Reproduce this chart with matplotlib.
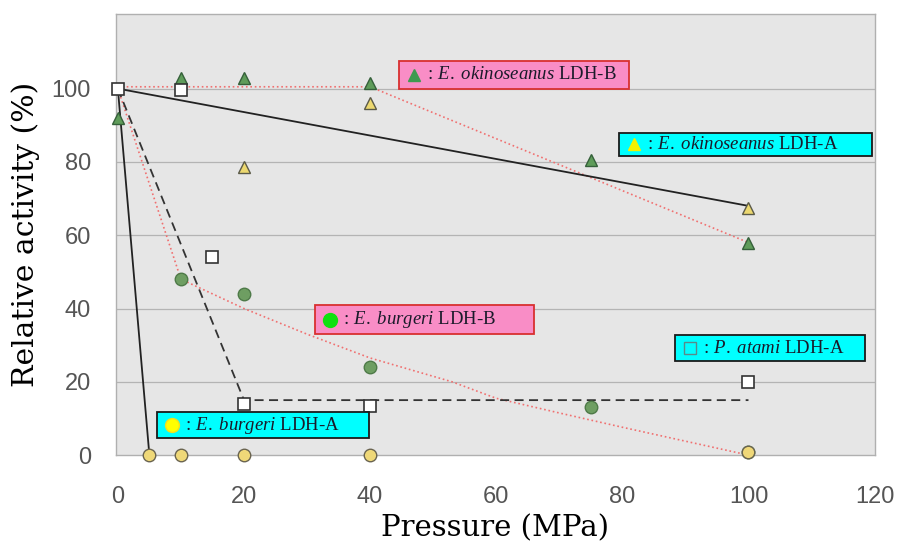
import matplotlib
matplotlib.use("Agg")
import matplotlib.pyplot as plt
from matplotlib.patches import Rectangle

# --- Style ---
plt.rcParams['mathtext.fontset'] = 'custom'
plt.rcParams['mathtext.rm'] = 'Liberation Serif'
plt.rcParams['mathtext.it'] = 'Liberation Serif:italic'

# --- Data ---
# E. okinoseanus LDH-B (green triangles)
okB_x = [0, 10, 20, 40, 75, 100]
okB_y = [92, 103, 103, 101.5, 80.5, 58]
okB_fit_x = [0, 40, 100]
okB_fit_y = [100.5, 100.5, 58]

# E. okinoseanus LDH-A (yellow triangles)
okA_x = [20, 40, 100]
okA_y = [78.5, 96, 67.5]
okA_fit_x = [0, 100]
okA_fit_y = [100, 68]

# P. atami LDH-A (open squares)
pa_x = [0, 10, 15, 20, 40, 100]
pa_y = [100, 99.5, 54, 14, 13.5, 20]
pa_fit_x = [0, 20, 100]
pa_fit_y = [100, 15, 15]

# E. burgeri LDH-B (green circles)
buB_x = [10, 20, 40, 75, 100]
buB_y = [48, 44, 24, 13, 0.8]
buB_fit_x = [0, 10, 20, 30, 40, 53, 60, 70, 80, 90, 100]
buB_fit_y = [100, 48, 40, 33, 26.5, 20, 15.5, 11.5, 7.6, 3.8, 0]

# E. burgeri LDH-A (yellow circles)
buA_x = [5, 10, 20, 40, 100]
buA_y = [0, 0, 0, 0, 0.8]
buA_fit_x = [0, 5]
buA_fit_y = [100, 0]

x_ticks = [0, 20, 40, 60, 80, 100, 120]
y_ticks = [0, 20, 40, 60, 80, 100]

# --- Figure ---
fig = plt.figure(figsize=(9.01, 5.47), dpi=100)
ax = fig.add_axes([0.1287, 0.168, 0.842, 0.806])
ax.set_facecolor('#e6e6e6')

for y in y_ticks[1:]:
    ax.axhline(y, color='#b4b4b4', lw=0.9, zorder=1)

# fitted / guide lines
ax.plot(okB_fit_x, okB_fit_y, ls=':', color='#f07070', lw=1.2, zorder=2)
ax.plot(buB_fit_x, buB_fit_y, ls=':', color='#f07070', lw=1.2, zorder=2)
ax.plot(okA_fit_x, okA_fit_y, ls='-', color='#222222', lw=1.3, zorder=2)
ax.plot(buA_fit_x, buA_fit_y, ls='-', color='#222222', lw=1.3, zorder=2)
ax.plot(pa_fit_x, pa_fit_y, ls=(0, (5, 3)), color='#333333', lw=1.3, zorder=2)

# data points
ms = 9
ax.plot(buB_x, buB_y, 'o', ms=ms, mfc='#6e9e62', mec='#4e7a48', clip_on=False, zorder=4)
ax.plot(buA_x, buA_y, 'o', ms=ms, mfc='#efd878', mec='#6a6450', clip_on=False, zorder=5)
ax.plot(okB_x, okB_y, '^', ms=ms, mfc='#5f9c5a', mec='#35603a', clip_on=False, zorder=4)
ax.plot(okA_x, okA_y, '^', ms=ms, mfc='#ecd870', mec='#5a5a48', clip_on=False, zorder=4)
ax.plot(pa_x, pa_y, 's', ms=8, mfc='white', mec='#333333', mew=1.2, clip_on=False, zorder=6)

# label boxes
labels = [
    # (x0, y0, x1, y1, face, edge, marker, mfc, mec, text)
    (44.6, 100.0, 81.0, 107.6, '#f98dc6', '#d83030', '^', '#3f9a50', '#3f9a50',
     r' : $\it{E.\ okinoseanus}$ LDH-B'),
    (79.4, 81.7, 119.6, 88.0, '#00ffff', '#1a1a1a', '^', '#f2f200', '#f2f200',
     r' : $\it{E.\ okinoseanus}$ LDH-A'),
    (31.2, 33.0, 66.0, 40.9, '#f98dc6', '#d83030', 'o', '#10e010', '#10e010',
     r' : $\it{E.\ burgeri}$ LDH-B'),
    (88.4, 25.6, 118.4, 32.7, '#00ffff', '#1a1a1a', 's', 'none', '#5a8a8a',
     r' : $\it{P.\ atami}$ LDH-A'),
    (6.2, 4.6, 39.9, 11.7, '#00ffff', '#1a1a1a', 'o', '#ffff00', '#f0e020',
     r' : $\it{E.\ burgeri}$ LDH-A'),
]
for x0, y0, x1, y1, fc, ec, mk, mfc, mec, txt in labels:
    ax.add_patch(Rectangle((x0, y0), x1 - x0, y1 - y0, facecolor=fc, edgecolor=ec,
                           lw=1.3, zorder=7, clip_on=False))
    ym = (y0 + y1) / 2
    ax.plot([x0 + 2.4], [ym], marker=mk, ms=8 if mk != 'o' else 10, mfc=mfc, mec=mec,
            ls='none', zorder=8, clip_on=False)
    ax.text(x0 + 3.8, ym, txt, fontsize=13.5, family='Liberation Serif', color='#1a1a2a',
            va='center', ha='left', zorder=8)

ax.set_xlim(-0.3, 120)
ax.set_ylim(0, 120.3)
ax.set_xticks(x_ticks)
ax.set_yticks(y_ticks)
ax.tick_params(length=0, labelsize=17, labelcolor='#555555')
ax.tick_params(axis='x', pad=22)
ax.tick_params(axis='y', pad=18)
for lab in ax.get_xticklabels() + ax.get_yticklabels():
    lab.set_family('Liberation Sans')
for sp in ax.spines.values():
    sp.set_color('#b0b0b0')
    sp.set_linewidth(1.0)

ax.set_xlabel('Pressure (MPa)', family='DejaVu Serif', fontsize=21, labelpad=5)
ax.set_ylabel('Relative activity (%)', family='DejaVu Serif', fontsize=21.5, labelpad=8)

fig.savefig('out.png', dpi=100)
